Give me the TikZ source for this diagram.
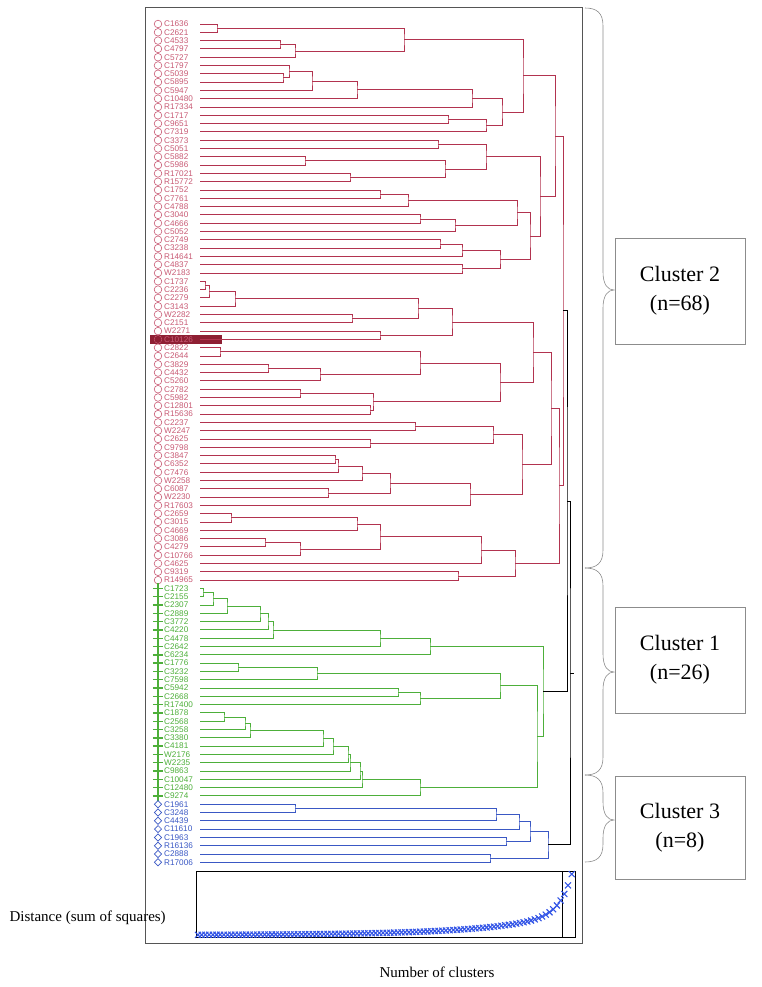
\documentclass[tikz,border=0pt]{standalone}
\usepackage{fontspec}
\setmainfont{Liberation Serif}
\newfontfamily\leaffont{Liberation Sans}
\usetikzlibrary{calc, shapes.geometric, shapes.misc}
\definecolor{ClRed}{HTML}{B2334F}
\definecolor{ClRedTxt}{HTML}{C85A74}
\definecolor{ClGreen}{HTML}{4DAF3A}
\definecolor{ClBlue}{HTML}{3A58C4}
\definecolor{PtBlue}{HTML}{3355E6}
\definecolor{FrameGray}{HTML}{555555}
\definecolor{BraceGray}{HTML}{8C8C8C}
\definecolor{HiRed}{HTML}{8E1F33}

% merge #2 and #3 into coordinate #1 at height #4
\newcommand{\mrg}[4]{%
  \coordinate (#1m) at ($(#2)!0.5!(#3)$);
  \coordinate (#1x) at (#4,0);
  \coordinate (#1) at (#1m -| #1x);
  \draw (#2) -| (#1) |- (#3);
}
% curly brace: top, tip, bottom
\newcommand{\clbrace}[3]{%
  \draw[brc] (585,#1) .. controls (597,#1) and (603,{#1+5}) .. (603,{#1+18})
    -- (603,{#2-18}) .. controls (603,{#2-5}) and (608,#2) .. (614,#2)
    .. controls (608,#2) and (603,{#2+5}) .. (603,{#2+18})
    -- (603,{#3-18}) .. controls (603,{#3-5}) and (597,#3) .. (585,#3);
}

\begin{document}
\begin{tikzpicture}[x=1pt, y=-1pt,
    leaf/.style={anchor=west, inner sep=0pt, font=\leaffont\fontsize{8.2}{8.3}\selectfont},
    redmk/.style={circle, draw=ClRedTxt, line width=0.6pt, minimum size=7.6pt, inner sep=0pt},
    grnmk/.style={cross out, rotate=45, draw=ClGreen, line width=1.4pt, minimum size=6pt, inner sep=0pt},
    blumk/.style={diamond, draw=ClBlue, line width=0.7pt, minimum size=7.5pt, inner sep=0pt},
    brc/.style={BraceGray, line width=0.6pt},
    clbox/.style={draw=BraceGray, line width=0.6pt, minimum width=130pt, minimum height=106pt,
                  align=center, font=\fontsize{22}{29}\selectfont},
    axlab/.style={font=\fontsize{15}{17}\selectfont},
    ptmk/.style={PtBlue, line width=1.1pt},
  ]
  \useasboundingbox (0,0) rectangle (762,987);

  % =================== frame ===================
  \draw[FrameGray, line width=1pt] (145,8) rectangle (582,943);
  \fill[HiRed] (150,335) rectangle (222,344);

  % =================== leaves ===================
  \foreach \lab [count=\i] in {C1636,C2621,C4533,C4797,C5727,C1797,C5039,C5895,C5947,C10480,
      R17334,C1717,C9651,C7319,C3373,C5051,C5882,C5986,R17021,R15772,C1752,C7761,C4788,C3040,
      C4666,C5052,C2749,C3238,R14641,C4837,W2183,C1737,C2236,C2279,C3143,W2282,C2151,W2271,
      C10126,C2822,C2644,C3829,C4432,C5260,C2782,C5982,C12801,R15636,C2237,W2247,C2625,C9798,
      C3847,C6352,C7476,W2258,C6087,W2230,R17603,C2659,C3015,C4669,C3086,C4279,C10766,C4625,
      C9319,R14965} {
    \pgfmathsetmacro\ly{24+(\i-1)*8.3}
    \node[redmk] (mr\i) at (158,\ly) {};
    \node[leaf, text=ClRedTxt] (tr\i) at (164,\ly) {\lab};
    \coordinate (lr\i) at (200,\ly);
  }
  \fill[HiRed] (mr39) circle (3.4pt);
  \foreach \lab [count=\i] in {C1723,C2155,C2307,C2889,C3772,C4220,C4478,C2642,C6234,C1776,
      C3232,C7598,C5942,C2668,R17400,C1878,C2568,C3258,C3380,C4181,W2176,W2235,C9863,C10047,
      C12480,C9274} {
    \pgfmathsetmacro\ly{24+(67+\i)*8.3}
    \node[grnmk] (mg\i) at (158,\ly) {};
    \node[leaf, text=ClGreen] (tg\i) at (164,\ly) {\lab};
    \coordinate (lg\i) at (200,\ly);
  }
  \foreach \lab [count=\i] in {C1961,C3248,C4439,C11610,C1963,R16136,C2888,R17006} {
    \pgfmathsetmacro\ly{24+(93+\i)*8.3}
    \node[blumk] (mb\i) at (158,\ly) {};
    \node[leaf, text=ClBlue] (tb\i) at (164,\ly) {\lab};
    \coordinate (lb\i) at (200,\ly);
  }

  % =================== cluster 2 (red) ===================
  \begin{scope}[ClRed, line width=0.9pt]
    \mrg{ra1}{lr1}{lr2}{217}
    \mrg{ra2}{lr3}{lr4}{280}
    \mrg{ra3}{ra2}{lr5}{295}
    \mrg{ra4}{ra1}{ra3}{404}
    \mrg{ra5}{lr7}{lr8}{283}
    \mrg{ra6}{lr6}{ra5}{289}
    \mrg{ra7}{ra6}{lr9}{312}
    \mrg{ra8}{ra7}{lr10}{357}
    \mrg{ra9}{ra8}{lr11}{472}
    \mrg{ra10}{lr12}{lr13}{448}
    \mrg{ra11}{ra10}{lr14}{486}
    \mrg{ra12}{ra9}{ra11}{502}
    \mrg{ra13}{ra4}{ra12}{523}
    \mrg{rb1}{lr15}{lr16}{438}
    \mrg{rb2}{lr17}{lr18}{305}
    \mrg{rb3}{lr19}{lr20}{350}
    \mrg{rb4}{rb2}{rb3}{445}
    \mrg{rb5}{rb1}{rb4}{486}
    \mrg{rc1}{lr21}{lr22}{380}
    \mrg{rc2}{rc1}{lr23}{408}
    \mrg{rc3}{lr24}{lr25}{420}
    \mrg{rc4}{rc3}{lr26}{455}
    \mrg{rc5}{rc2}{rc4}{517}
    \mrg{rc6}{lr27}{lr28}{440}
    \mrg{rc7}{rc6}{lr29}{462}
    \mrg{rc8}{lr30}{lr31}{462}
    \mrg{rc9}{rc7}{rc8}{500}
    \mrg{rc10}{rc5}{rc9}{530}
    \mrg{rbc}{rb5}{rc10}{540}
    \mrg{rup}{ra13}{rbc}{555}
    \mrg{rd1}{lr32}{lr33}{205}
    \mrg{rd2}{rd1}{lr34}{209}
    \mrg{rd3}{rd2}{lr35}{235}
    \mrg{rd4}{lr36}{lr37}{352}
    \mrg{rd5}{rd3}{rd4}{418}
    \mrg{rd6}{lr38}{lr39}{380}
    \mrg{rd7}{rd5}{rd6}{452}
    \mrg{re1}{lr40}{lr41}{220}
    \mrg{re2}{lr42}{lr43}{268}
    \mrg{re3}{re2}{lr44}{320}
    \mrg{re4}{re1}{re3}{420}
    \mrg{re5}{lr45}{lr46}{300}
    \mrg{re6}{lr47}{lr48}{370}
    \mrg{re7}{re5}{re6}{373}
    \mrg{re8}{re4}{re7}{500}
    \mrg{rx1}{rd7}{re8}{533}
    \mrg{rf1}{lr49}{lr50}{415}
    \mrg{rf2}{lr51}{lr52}{370}
    \mrg{rf3}{rf1}{rf2}{493}
    \mrg{rf4}{lr53}{lr54}{335}
    \mrg{rf5}{rf4}{lr55}{338}
    \mrg{rf6}{rf5}{lr56}{362}
    \mrg{rf7}{lr57}{lr58}{328}
    \mrg{rf8}{rf6}{rf7}{390}
    \mrg{rf9}{rf8}{lr59}{470}
    \mrg{rf10}{rf3}{rf9}{522}
    \mrg{rx2}{rx1}{rf10}{551}
    \mrg{rg1}{lr60}{lr61}{231}
    \mrg{rg2}{rg1}{lr62}{357}
    \mrg{rg3}{lr63}{lr64}{265}
    \mrg{rg4}{rg3}{lr65}{300}
    \mrg{rg5}{rg2}{rg4}{380}
    \mrg{rg6}{rg5}{lr66}{481}
    \mrg{rg7}{lr67}{lr68}{458}
    \mrg{rg8}{rg6}{rg7}{515}
    \mrg{rx3}{rx2}{rg8}{559}
    \mrg{clR}{rup}{rx3}{563}
  \end{scope}

  % =================== cluster 1 (green) ===================
  \begin{scope}[ClGreen, line width=0.9pt]
    \mrg{ga1}{lg1}{lg2}{203}
    \mrg{ga2}{ga1}{lg3}{213}
    \mrg{ga3}{ga2}{lg4}{227}
    \mrg{ga4}{ga3}{lg5}{260}
    \mrg{ga5}{ga4}{lg6}{268}
    \mrg{ga6}{ga5}{lg7}{273}
    \mrg{ga7}{ga6}{lg8}{380}
    \mrg{ga8}{ga7}{lg9}{430}
    \mrg{gb1}{lg10}{lg11}{238}
    \mrg{gb2}{gb1}{lg12}{317}
    \mrg{gb3}{lg13}{lg14}{398}
    \mrg{gb4}{gb3}{lg15}{420}
    \mrg{gb5}{gb2}{gb4}{500}
    \mrg{gc1}{lg16}{lg17}{224}
    \mrg{gc2}{gc1}{lg18}{245}
    \mrg{gc3}{gc2}{lg19}{250}
    \mrg{gc4}{gc3}{lg20}{323}
    \mrg{gc5}{gc4}{lg21}{333}
    \mrg{gc6}{gc5}{lg22}{348}
    \mrg{gc7}{gc6}{lg23}{350}
    \mrg{gc8}{gc7}{lg24}{360}
    \mrg{gc9}{gc8}{lg25}{362}
    \mrg{gc10}{gc9}{lg26}{420}
    \mrg{gd}{gb5}{gc10}{537}
    \mrg{clG}{ga8}{gd}{543}
  \end{scope}

  % =================== cluster 3 (blue) ===================
  \begin{scope}[ClBlue, line width=0.9pt]
    \mrg{ba1}{lb1}{lb2}{295}
    \mrg{ba2}{ba1}{lb3}{496}
    \mrg{ba3}{ba2}{lb4}{519}
    \mrg{ba4}{lb5}{lb6}{506}
    \mrg{ba5}{ba3}{ba4}{530}
    \mrg{ba6}{lb7}{lb8}{490}
    \mrg{clB}{ba5}{ba6}{548}
  \end{scope}

  % upper joins
  \begin{scope}[black, line width=0.9pt]
    \mrg{rg}{clR}{clG}{567}
    \mrg{root}{rg}{clB}{570}
    \coordinate (stub) at ($(root)+(4,0)$);
    \draw (root) -- (stub);
  \end{scope}

  % =================== distance plot ===================
  \draw[black, line width=1pt] (196,871) rectangle (575,937);
  \draw[black, line width=0.8pt] (562,871) -- (562,937);
  \foreach \k in {0,...,101} {
    \pgfmathsetmacro\px{198+3.7*\k}
    \pgfmathsetmacro\py{935-40*exp(max((\px-572)/12,-8))-22*exp(max((\px-572)/80,-8))}
    \draw[ptmk] ({\px-3},{\py-3}) -- ({\px+3},{\py+3})
                ({\px-3},{\py+3}) -- ({\px+3},{\py-3});
  }
  \node[axlab, anchor=west] (ylab) at (6,918) {Distance (sum of squares)};
  \node[axlab] (xlab) at (437,972) {Number of clusters};

  % =================== cluster labels ===================
  \clbrace{8}{290}{568}
  \clbrace{568}{672}{775}
  \clbrace{775}{820}{862}
  \node[clbox] (box2) at (680,291) {Cluster 2\\(n=68)};
  \node[clbox] (box1) at (680,660) {Cluster 1\\(n=26)};
  \node[clbox, minimum height=103pt] (box3) at (680,828) {Cluster 3\\(n=8)};
\end{tikzpicture}
\end{document}
